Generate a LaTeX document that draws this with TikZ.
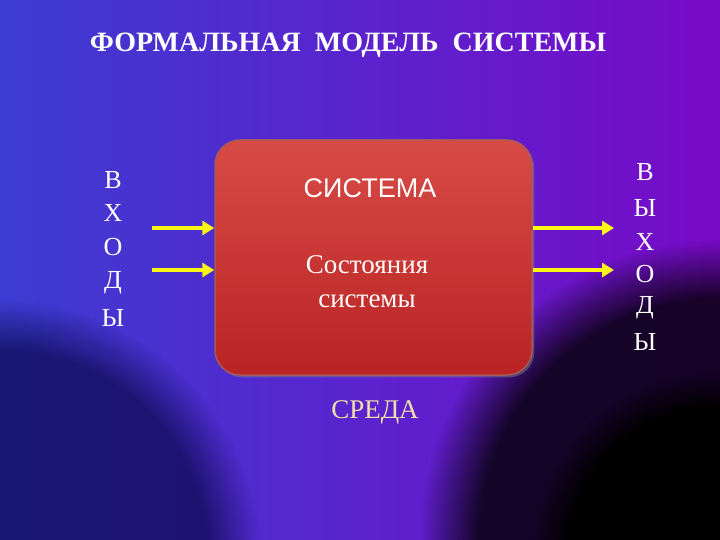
\documentclass[tikz,border=0pt]{standalone}
\usepackage{fontspec}
\setmainfont{Liberation Serif}
\newfontfamily\sansf{Liberation Sans}
\usetikzlibrary{fadings,shadows,arrows.meta}
\definecolor{bgA}{RGB}{60,60,210}
\definecolor{bgB}{RGB}{120,10,200}
\definecolor{boxT}{RGB}{215,75,70}
\definecolor{boxB}{RGB}{185,35,35}
\definecolor{arr}{RGB}{250,245,20}
\definecolor{sred}{RGB}{240,225,170}
\tikzset{letter/.style={text=white,font=\fontsize{26}{28}\selectfont},
 arrowline/.style={draw=arr,line width=4pt,-{Triangle[length=12pt,width=14pt]}}}
\begin{document}
\begin{tikzpicture}[x=1pt,y=-1pt]
\useasboundingbox (0,0) rectangle (720,540);
\shade[left color=bgA,right color=bgB] (0,0) rectangle (720,540);
\fill[black!80!blue,path fading=circle with fuzzy edge 20 percent,opacity=0.6] (0,560) circle (260);
\fill[black,path fading=circle with fuzzy edge 20 percent,opacity=0.8] (720,540) circle (300);
\fill[black,path fading=circle with fuzzy edge 20 percent] (720,560) circle (190);
\node (title) [text=white,font=\bfseries\fontsize{28}{30}\selectfont] at (348,45) {ФОРМАЛЬНАЯ\ \ МОДЕЛЬ\ \ СИСТЕМЫ};
\node (box) [draw=red!30!gray,line width=1.5pt,rounded corners=25pt,top color=boxT,bottom color=boxB,minimum width=317pt,minimum height=235pt,drop shadow] at (373.5,257.5) {};
\node (sys) [text=white,font=\sansf\fontsize{27}{29}\selectfont] at (370,188) {СИСТЕМА};
\node (st) [text=white,align=center,font=\fontsize{27}{34}\selectfont] at (367,282) {Состояния\\системы};
\node (env) [text=sred,font=\fontsize{27}{29}\selectfont] at (375,412) {СРЕДА};
\foreach \t/\y [count=\i] in {В/180,Х/213,О/247,Д/283,Ы/318} \node (l\i) [letter] at (113,\y) {\t};
\foreach \t/\y [count=\i] in {В/172,Ы/208,Х/242,О/274,Д/308,Ы/342} \node (r\i) [letter] at (645,\y) {\t};
\coordinate (a1) at (152,228); \coordinate (a2) at (152,270);
\coordinate (b1) at (614,228); \coordinate (b2) at (614,270);
\draw[arrowline] (a1) -- (box.west |- a1);
\draw[arrowline] (a2) -- (box.west |- a2);
\draw[arrowline] (box.east |- b1) -- (b1);
\draw[arrowline] (box.east |- b2) -- (b2);
\end{tikzpicture}
\end{document}
